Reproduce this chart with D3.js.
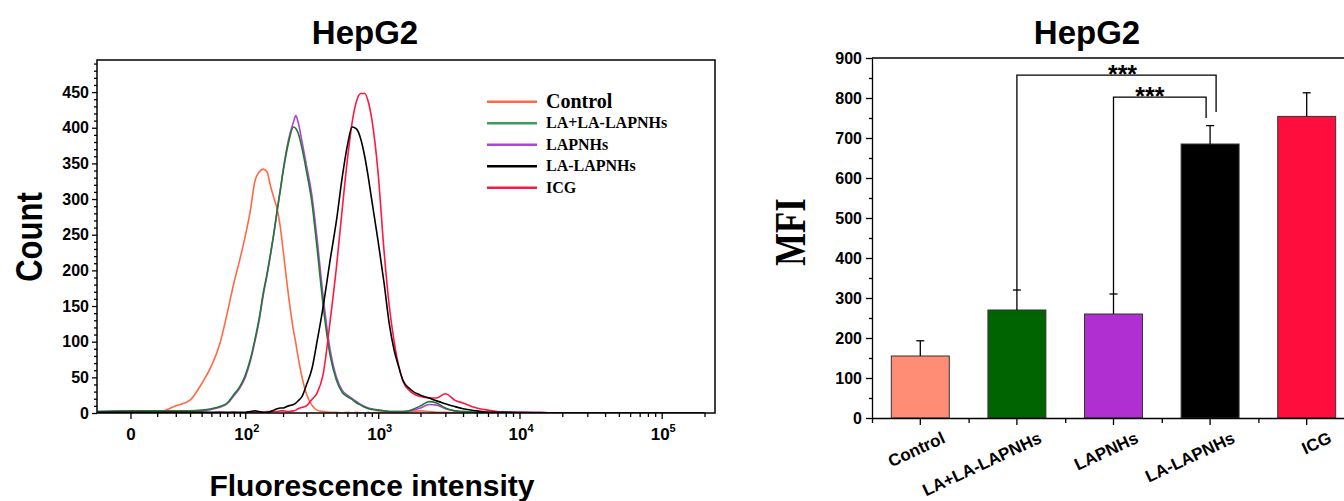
<!DOCTYPE html>
<html>
<head>
<meta charset="utf-8">
<script src="https://cdn.jsdelivr.net/npm/d3@7"></script>
<style>
body { margin: 0; background: #fff; }
text { font-family: Arial, "Liberation Sans", sans-serif; font-weight: bold; fill: #000; }
.serif { font-family: "Times New Roman", "Liberation Serif", serif; }
.axis path, .axis line { stroke: #000; stroke-width: 1.3; }
</style>
</head>
<body>
<div id="chart"></div>
<script>
// ---------- histogram data (left panel) ----------
var intensity = [-13, 0, 10, 20, 30, 40, 50, 60, 70, 80, 90, 100, 110, 120, 130, 140, 150, 160, 170, 180, 190, 200,
    220, 240, 250, 260, 280, 300, 330, 360, 400, 450, 500, 550, 600, 650, 700, 750, 800, 850, 900,
    1000, 1100, 1200, 1300, 1400, 1500, 1700, 2000, 2300, 2600, 3000, 3500, 4000, 5000, 6000, 8000, 10000,
    20000, 50000, 100000, 200000];

var countControl = [1, 2, 1, 10, 18, 41, 66, 97, 140, 182, 215, 248, 283, 325, 338, 342, 338, 318, 301, 286, 262, 229,
    165, 116, 98, 79, 48, 27, 11, 4, 2, 1, 1, 0, 1, 0, 1, 0, 0, 1, 0,
    1, 0, 1, 0, 1, 1, 2, 3, 2, 1, 1, 0, 1, 0, 0, 0, 0,
    0, 0, 0, 0];
var countLALA = [2, 3, 3, 3, 3, 4, 6, 9, 14, 26, 37, 53, 75, 103, 133, 168, 195, 224, 253, 284, 311, 338,
    379, 401, 399, 393, 369, 340, 295, 232, 150, 80, 46, 29, 23, 19, 14, 11, 8, 6, 5,
    4, 3, 2, 2, 2, 2, 4, 10, 16, 14, 7, 3, 2, 1, 1, 1, 1,
    0, 0, 0, 0];
var countLAPNHs = [2, 3, 2, 2, 3, 3, 5, 8, 13, 24, 35, 50, 72, 100, 130, 165, 193, 222, 252, 283, 312, 340,
    383, 408, 417, 408, 378, 348, 305, 245, 162, 88, 50, 32, 25, 20, 16, 12, 9, 7, 6,
    4, 3, 2, 2, 2, 2, 3, 7, 12, 11, 6, 3, 2, 1, 1, 1, 1,
    0, 0, 0, 0];
var countLALAPNHs = [1, 1, 1, 1, 1, 1, 1, 1, 1, 1, 1, 1, 2, 3, 2, 1, 1, 2, 4, 6, 7, 7,
    10, 12, 14, 17, 24, 39, 62, 100, 150, 215, 270, 330, 375, 401, 398, 384, 360, 330, 298,
    240, 183, 125, 88, 65, 46, 33, 25, 21, 17, 13, 9, 6, 3, 1, 1, 0,
    0, 0, 0, 0];
var countICG = [0, 1, 0, 1, 0, 1, 0, 1, 0, 1, 0, 0, 1, 0, 1, 1, 2, 2, 2, 2, 3, 3,
    2, 3, 4, 6, 8, 10, 19, 28, 55, 130, 205, 285, 355, 408, 438, 448, 448, 436, 412,
    335, 228, 150, 100, 66, 45, 30, 23, 21, 21, 27, 18, 14, 7, 4, 1, 1,
    0, 0, 0, 0];

var seriesNames = ["Control", "LA+LA-LAPNHs", "LAPNHs", "LA-LAPNHs", "ICG"];
var seriesColors = ["#ff6a45", "#1f7a30", "#b044d4", "#000000", "#ff1744"];
var legendColors = ["#ff6a45", "#3f9a5c", "#b044d4", "#000000", "#ff1744"];
var seriesCounts = [countControl, countLALA, countLAPNHs, countLALAPNHs, countICG];
var drawOrder = [0, 2, 1, 4, 3];

var xMajor = [0, 100, 1000, 10000, 100000];
var xMinor = [10, 20, 30, 40, 50, 60, 70, 80, 90, 200, 300, 400, 500, 600, 700, 800, 900,
    2000, 3000, 4000, 5000, 6000, 7000, 8000, 9000, 20000, 30000, 40000, 50000, 60000, 70000, 80000, 90000, 200000];
var yTicksL = [0, 50, 100, 150, 200, 250, 300, 350, 400, 450];

// ---------- MFI data (right panel) ----------
var groups = ["Control", "LA+LA-LAPNHs", "LAPNHs", "LA-LAPNHs", "ICG"];
var mfi = [155, 270, 260, 685, 754];
var mfiErr = [38, 50, 50, 46, 59];
var barColors = ["#ff8c74", "#006400", "#b02fd0", "#000000", "#ff0d3d"];
var yTicksR = [0, 100, 200, 300, 400, 500, 600, 700, 800, 900];

var sigFrom = ["LA+LA-LAPNHs", "LAPNHs"];
var sigTo = ["LA-LAPNHs", "LA-LAPNHs"];
var sigLevel = [857, 802];
var sigEnd = [765, 750];
var sigText = ["***", "***"];

// ---------- svg ----------
var width = 1344, height = 501;
var svg = d3.select("#chart").append("svg")
    .attr("width", width)
    .attr("height", height);

// ===== left panel =====
var L = {left: 97, right: 715, top: 60, bottom: 413};

var x = d3.scaleSymlog()
    .constant(18.5)
    .domain([-13.3, 236950])
    .range([L.left, L.right]);

var y = d3.scaleLinear()
    .domain([0, 495])
    .range([L.bottom, L.top]);

svg.append("defs").append("clipPath").attr("id", "clipL")
    .append("rect")
    .attr("x", L.left).attr("y", L.top)
    .attr("width", L.right - L.left).attr("height", L.bottom - L.top);

var line = d3.line()
    .x(function(d){ return x(d[0]); })
    .y(function(d){ return y(d[1]); })
    .curve(d3.curveMonotoneX);

var curves = svg.append("g").attr("clip-path", "url(#clipL)");
drawOrder.forEach(function(i){
    var data = intensity.map(function(v, k){ return [v, seriesCounts[i][k]]; });
    curves.append("path")
        .attr("d", line(data))
        .attr("fill", "none")
        .attr("stroke", seriesColors[i])
        .attr("stroke-width", 1.6);
});

// frame
svg.append("rect")
    .attr("x", L.left).attr("y", L.top)
    .attr("width", L.right - L.left).attr("height", L.bottom - L.top)
    .attr("fill", "none").attr("stroke", "#000").attr("stroke-width", 1.5);

// x axis
var gx = svg.append("g").attr("class", "axis")
    .attr("transform", "translate(0," + L.bottom + ")")
    .call(d3.axisBottom(x).tickValues(xMajor).tickSize(6).tickSizeOuter(0).tickFormat(""));
gx.select(".domain").remove();
svg.append("g").attr("class", "axis")
    .attr("transform", "translate(0," + L.bottom + ")")
    .call(d3.axisBottom(x).tickValues(xMinor).tickSize(4).tickFormat(""))
    .select(".domain").remove();

gx.selectAll(".tick").each(function(d){
    var t = d3.select(this).append("text")
        .attr("y", 27)
        .attr("text-anchor", "middle")
        .attr("font-size", 17);
    if (d === 0) {
        t.text("0");
    } else {
        t.attr("x", 1);
        t.append("tspan").text("10");
        t.append("tspan").attr("font-size", 11).attr("dy", -8).text(Math.round(Math.log10(d)));
    }
});

// y axis
var gy = svg.append("g").attr("class", "axis")
    .attr("transform", "translate(" + L.left + ",0)")
    .call(d3.axisLeft(y).tickValues(yTicksL).tickSize(5).tickPadding(3).tickSizeOuter(0));
gy.select(".domain").remove();
gy.selectAll("text").attr("font-size", 16).attr("font-family", "Arial").attr("font-weight", "bold").attr("fill", "#000");
svg.append("g").attr("class", "axis")
    .attr("transform", "translate(" + L.left + ",0)")
    .call(d3.axisLeft(y).tickValues(d3.range(10, 495, 10).filter(function(v){ return v % 50 !== 0; })).tickSize(3).tickFormat(""))
    .select(".domain").remove();

// titles
svg.append("text").attr("x", 365).attr("y", 44).attr("text-anchor", "middle")
    .attr("font-size", 33).text("HepG2");
svg.append("text").attr("transform", "translate(42,237) rotate(-90) scale(0.84,1)").attr("text-anchor", "middle")
    .attr("font-size", 37).text("Count");
svg.append("text").attr("x", 372).attr("y", 496).attr("text-anchor", "middle")
    .attr("font-size", 30).text("Fluorescence intensity");

// legend
var legend = svg.append("g");
seriesNames.forEach(function(name, i){
    var ly = 101.7 + i * 21.5;
    legend.append("line")
        .attr("x1", 487).attr("x2", 537).attr("y1", ly).attr("y2", ly)
        .attr("stroke", legendColors[i]).attr("stroke-width", 2.5);
    legend.append("text").attr("class", "serif")
        .attr("x", 546).attr("y", ly + (i === 0 ? 6 : 5))
        .attr("font-size", i === 0 ? 20 : 16)
        .text(name);
});

// ===== right panel =====
var R = {left: 872, right: 1355, top: 58, bottom: 418};

var xb = d3.scaleBand()
    .domain(groups)
    .range([R.left, R.right])
    .paddingInner(0.4)
    .paddingOuter(0.2);

var yb = d3.scaleLinear()
    .domain([0, 900])
    .range([R.bottom, R.top]);

// bars
svg.append("g").selectAll("rect")
    .data(groups)
    .enter().append("rect")
    .attr("x", function(d){ return xb(d); })
    .attr("y", function(d, i){ return yb(mfi[i]); })
    .attr("width", xb.bandwidth())
    .attr("height", function(d, i){ return yb(0) - yb(mfi[i]); })
    .attr("fill", function(d, i){ return barColors[i]; })
    .attr("stroke", "#333").attr("stroke-width", 1);

// error bars
var eb = svg.append("g").attr("stroke", "#000").attr("stroke-width", 1.3);
groups.forEach(function(g, i){
    var cx = xb(g) + xb.bandwidth() / 2;
    eb.append("line").attr("x1", cx).attr("x2", cx)
        .attr("y1", yb(mfi[i])).attr("y2", yb(mfi[i] + mfiErr[i]));
    eb.append("line").attr("x1", cx - 4).attr("x2", cx + 4)
        .attr("y1", yb(mfi[i] + mfiErr[i])).attr("y2", yb(mfi[i] + mfiErr[i]));
});

// frame top line and axes
svg.append("line").attr("x1", R.left).attr("x2", R.right)
    .attr("y1", R.top).attr("y2", R.top).attr("stroke", "#000").attr("stroke-width", 1.3);

var gyb = svg.append("g").attr("class", "axis")
    .attr("transform", "translate(" + R.left + ",0)")
    .call(d3.axisLeft(yb).tickValues(yTicksR).tickSize(6).tickPadding(4).tickSizeOuter(0));
gyb.selectAll("text").attr("font-size", 16).attr("font-family", "Arial").attr("font-weight", "bold").attr("fill", "#000");
svg.append("g").attr("class", "axis")
    .attr("transform", "translate(" + R.left + ",0)")
    .call(d3.axisLeft(yb).tickValues(d3.range(50, 900, 100)).tickSize(3).tickFormat(""))
    .select(".domain").remove();

var gxb = svg.append("g").attr("class", "axis")
    .attr("transform", "translate(0," + R.bottom + ")")
    .call(d3.axisBottom(xb).tickSize(7).tickSizeOuter(0).tickFormat(""));
svg.append("g").attr("class", "axis")
    .attr("transform", "translate(0," + R.bottom + ")")
    .call(d3.axisBottom(d3.scaleLinear().domain([0, groups.length]).range([R.left, R.left + xb.step() * groups.length]))
        .tickValues(d3.range(0, groups.length)).tickSize(5).tickFormat(""))
    .select(".domain").remove();

gxb.selectAll(".tick").append("text")
    .attr("transform", "translate(26,24) rotate(-25)")
    .attr("text-anchor", "end")
    .attr("font-size", 17)
    .text(function(d){ return d; });

svg.append("text").attr("x", 1087).attr("y", 44).attr("text-anchor", "middle")
    .attr("font-size", 33).text("HepG2");
svg.append("text").attr("class", "serif")
    .attr("transform", "translate(805,232) rotate(-90) scale(0.77,1)").attr("text-anchor", "middle")
    .attr("font-size", 45).text("MFI");

// significance brackets
var sg = svg.append("g");
var starShift = [6, -10];
sigFrom.forEach(function(a, i){
    var ia = groups.indexOf(a);
    var xa = xb(a) + xb.bandwidth() / 2;
    var xe = xb(sigTo[i]) + xb.bandwidth() / 2 + (i === 0 ? 6 : -4);
    var yl = yb(sigLevel[i]);
    sg.append("path")
        .attr("d", "M" + xa + "," + yb(mfi[ia] + mfiErr[ia]) + "V" + yl + "H" + xe + "V" + yb(sigEnd[i]))
        .attr("fill", "none").attr("stroke", "#000").attr("stroke-width", 1.3);
    sg.append("text")
        .attr("x", (xa + xe) / 2 + starShift[i]).attr("y", yl + 8)
        .attr("text-anchor", "middle").attr("font-size", 25)
        .text(sigText[i]);
});
</script>
</body>
</html>
